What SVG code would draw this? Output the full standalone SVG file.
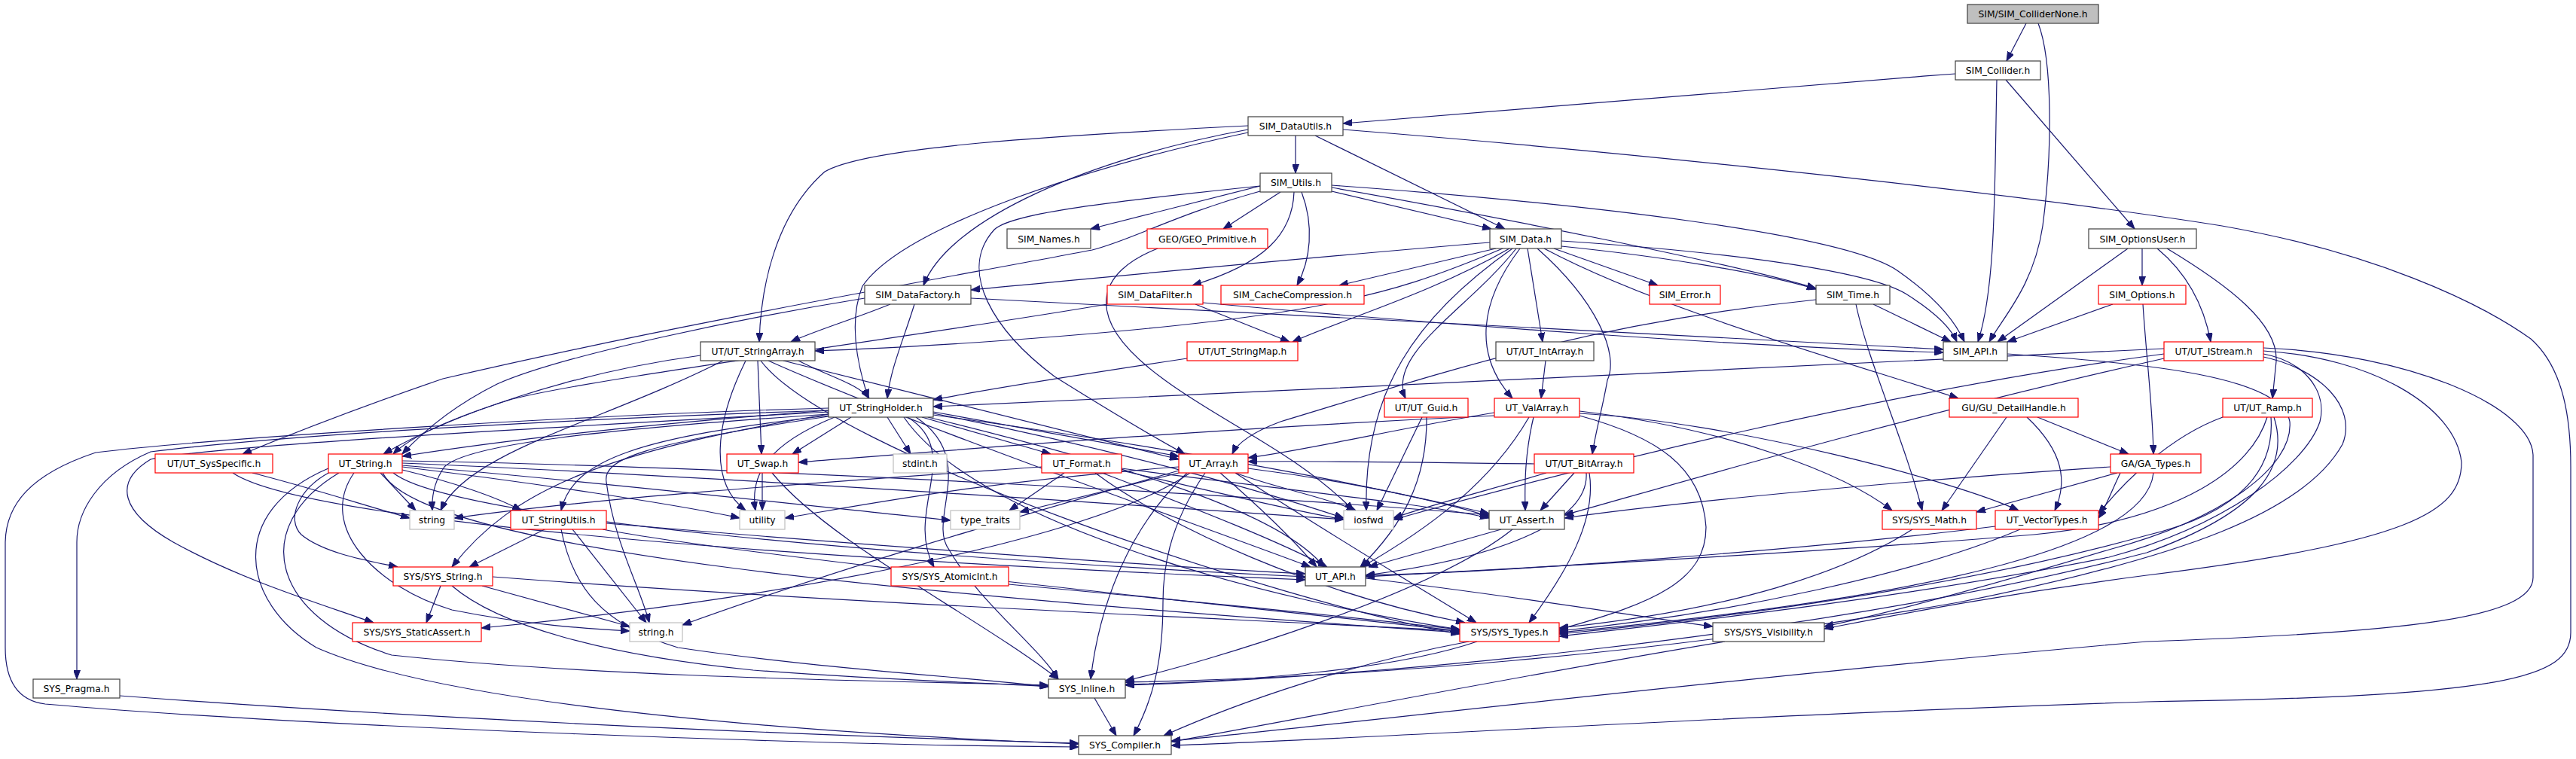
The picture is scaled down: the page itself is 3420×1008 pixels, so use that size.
<svg xmlns="http://www.w3.org/2000/svg" width="3420" height="1008" viewBox="0 0 3420 1008">
<style>
.n rect{fill:#fff;stroke:#404040;stroke-width:1.2}
.n.r rect{stroke:#ff0000}
.n.g rect{stroke:#bfbfbf}
.n.root rect{fill:#bfbfbf}
.n text{font-family:"DejaVu Sans","Liberation Sans",sans-serif;font-size:12.3px;text-anchor:middle;fill:#000}
.e path{fill:none;stroke:#191970;stroke-width:1.2;marker-end:url(#a)}
</style>
<defs>
<marker id="a" markerWidth="12" markerHeight="9" refX="12" refY="4.5" orient="auto" markerUnits="userSpaceOnUse"><path d="M0,0 L12,4.5 L0,9 z" fill="#191970" stroke="#191970" stroke-width="1"/></marker>
</defs>
<rect width="3420" height="1008" fill="#fff"/>
<g id="edges" class="e">
<path d="M2690,31 L2664,81"/>
<path d="M2706,31 C2725,80 2725,200 2712,300 C2700,380 2660,420 2641,454"/>
<path d="M2596,98 C2300,120 2000,145 1783,164"/>
<path d="M2651,106 C2648,250 2650,380 2626,454"/>
<path d="M2663,106 L2834,304"/>
<path d="M1720,180 L1720,230"/>
<path d="M1746,180 L1998,304"/>
<path d="M1657,172 C1450,210 1260,290 1226,379"/>
<path d="M1657,167 C1400,180 1150,195 1095,228 C1030,285 1010,380 1008,454"/>
<path d="M1657,176 C1450,220 1200,300 1145,380 C1125,430 1140,490 1153,529"/>
<path d="M1783,172 C2200,205 2700,260 2950,300 C3150,335 3290,400 3360,450 C3405,490 3413,560 3413,620 L3413,840 C3413,900 3330,925 2850,932 C2300,950 1800,982 1555,990"/>
<path d="M1673,247 L1448,304"/>
<path d="M1700,255 L1624,304"/>
<path d="M1768,254 L1980,304"/>
<path d="M1718,255 C1716,310 1680,350 1583,379"/>
<path d="M1728,255 C1745,300 1740,345 1722,379"/>
<path d="M1768,249 C2000,290 2300,350 2411,383"/>
<path d="M1768,246 C2100,270 2450,310 2520,360 C2570,395 2595,425 2608,454"/>
<path d="M1673,247 C1450,270 1340,285 1320,305 C1270,360 1320,440 1400,500 C1480,550 1540,585 1573,603"/>
<path d="M1673,254 C1560,285 1500,320 1450,332 C1250,370 900,430 588,503 C480,540 390,575 322,603"/>
<path d="M1537,330 C1460,360 1430,420 1544,503 C1620,560 1720,600 1797,678"/>
<path d="M1978,322 C1700,345 1450,370 1289,385"/>
<path d="M1986,330 L1778,379"/>
<path d="M1995,330 C1900,370 1850,385 1780,400 C1600,440 1200,462 1082,466"/>
<path d="M2004,330 C1900,390 1780,425 1716,454"/>
<path d="M2013,330 C1950,410 1840,470 1866,529"/>
<path d="M2018,330 C1965,400 1955,470 2008,529"/>
<path d="M2028,330 L2048,454"/>
<path d="M2041,330 C2120,400 2150,470 2134,505 C2128,540 2118,575 2114,603"/>
<path d="M2050,330 C2200,410 2450,480 2600,529"/>
<path d="M2063,330 L2201,379"/>
<path d="M2073,327 C2200,340 2330,360 2411,384"/>
<path d="M2073,320 C2300,335 2480,360 2530,390 C2570,415 2590,435 2598,454"/>
<path d="M2008,330 C1880,420 1810,520 1814,678"/>
<path d="M2844,330 L2844,379"/>
<path d="M2825,330 L2652,454"/>
<path d="M2864,330 C2900,360 2925,400 2935,454"/>
<path d="M2877,330 C2960,380 3025,430 3022,480 L3017,529"/>
<path d="M2805,404 L2665,454"/>
<path d="M2845,404 C2850,480 2858,540 2859,603"/>
<path d="M1182,404 C1130,425 1080,440 1050,454"/>
<path d="M1214,404 C1200,450 1182,490 1178,529"/>
<path d="M1148,396 C1000,420 750,470 660,510 C600,540 560,575 534,603"/>
<path d="M1289,396 C1800,420 2300,450 2580,464"/>
<path d="M1597,402 C1900,430 2300,460 2580,468"/>
<path d="M1587,404 L1712,454"/>
<path d="M1470,404 C1200,450 800,500 680,530 C600,555 545,580 522,603"/>
<path d="M1576,476 C1450,495 1320,515 1239,531"/>
<path d="M2873,463 C2500,480 1800,515 1239,540"/>
<path d="M1178,554 L1209,603"/>
<path d="M1205,554 C1280,600 1200,680 1240,753"/>
<path d="M1216,554 C1300,610 1230,690 1260,730 C1300,800 1380,860 1405,902"/>
<path d="M1224,554 L1395,603"/>
<path d="M1239,547 L1565,606"/>
<path d="M1239,549 C1500,600 1700,660 1784,688"/>
<path d="M1239,551 C1600,600 1900,660 1977,686"/>
<path d="M1232,554 C1500,620 1700,680 1758,753"/>
<path d="M1200,554 C1300,700 1700,800 1938,836"/>
<path d="M1100,545 C900,560 700,580 534,606"/>
<path d="M1100,550 C800,570 620,590 590,620 C576,640 573,660 574,678"/>
<path d="M1130,554 L1052,603"/>
<path d="M1100,552 C850,580 760,610 745,678"/>
<path d="M1100,550 C800,600 680,650 600,753"/>
<path d="M1100,553 C850,590 800,610 805,640 C815,720 850,780 862,827"/>
<path d="M1108,554 C1020,590 995,630 1003,678"/>
<path d="M1100,545 C800,555 400,575 200,600 C130,630 102,680 102,720 L102,902"/>
<path d="M1100,542 C800,550 300,580 127,601 C40,630 8,670 7,720 L7,860 C7,900 20,930 60,935 C400,965 1100,990 1432,992"/>
<path d="M1100,547 C700,570 300,590 200,610 C150,640 160,680 230,720 C320,770 420,800 496,827"/>
<path d="M1060,479 C1100,500 1140,510 1154,529"/>
<path d="M930,472 C760,495 600,550 509,603"/>
<path d="M1006,479 L1011,603"/>
<path d="M1040,479 C1200,520 1450,580 1565,610"/>
<path d="M960,479 C800,560 620,600 585,678"/>
<path d="M990,479 C950,560 940,640 990,678"/>
<path d="M1020,479 C1200,560 1600,700 1740,753"/>
<path d="M1010,479 C1100,600 1700,800 1938,842"/>
<path d="M505,628 L552,678"/>
<path d="M534,624 C600,640 660,660 692,678"/>
<path d="M534,620 C700,640 900,670 982,688"/>
<path d="M438,627 C395,650 380,690 400,710 C430,735 490,745 528,753"/>
<path d="M522,628 C600,690 1200,740 1733,766"/>
<path d="M508,628 C560,730 1200,790 1938,840"/>
<path d="M450,628 C330,700 360,820 520,870 C800,900 1200,905 1392,910"/>
<path d="M436,622 C300,680 320,800 420,860 C600,940 1100,975 1432,988"/>
<path d="M470,628 C420,700 500,780 600,810 C700,830 780,835 836,838"/>
<path d="M534,615 C900,630 1500,670 1784,690"/>
<path d="M534,612 C1000,620 1700,660 1977,684"/>
<path d="M534,618 C800,640 1150,680 1262,691"/>
<path d="M335,628 C420,650 480,670 544,688"/>
<path d="M309,628 C400,690 1000,740 1733,770"/>
<path d="M723,703 L623,753"/>
<path d="M760,703 L858,827"/>
<path d="M800,703 C1000,740 1600,800 1938,838"/>
<path d="M805,695 C1100,720 1500,750 1733,762"/>
<path d="M745,703 C760,780 800,830 900,860 C1100,890 1300,900 1392,912"/>
<path d="M585,778 L566,827"/>
<path d="M640,778 L836,832"/>
<path d="M654,766 C1100,800 1600,820 1938,838"/>
<path d="M600,778 C660,830 800,870 1000,890 C1200,905 1350,908 1392,912"/>
<path d="M1339,776 C1600,800 1800,820 1938,836"/>
<path d="M1012,628 L1012,678"/>
<path d="M1025,628 C1100,720 1300,820 1405,902"/>
<path d="M1413,628 L1340,678"/>
<path d="M1383,620 C1100,640 800,660 603,688"/>
<path d="M1454,628 C1550,700 1750,790 1945,827"/>
<path d="M1463,628 C1600,680 1700,720 1762,753"/>
<path d="M1489,622 C1700,650 1900,670 1977,688"/>
<path d="M1489,625 C1600,650 1700,675 1784,690"/>
<path d="M1565,628 L1354,680"/>
<path d="M1565,625 C1300,700 1100,760 906,830"/>
<path d="M1565,620 C1300,640 1150,670 1042,688"/>
<path d="M1576,628 C1500,700 1460,800 1448,902"/>
<path d="M1600,628 C1550,700 1544,760 1544,800 C1544,880 1530,930 1505,977"/>
<path d="M1620,628 C1680,680 1720,720 1748,753"/>
<path d="M1640,628 C1750,700 1900,790 1960,827"/>
<path d="M1657,622 C1800,640 1900,665 1977,682"/>
<path d="M1640,628 C1700,650 1760,660 1800,678"/>
<path d="M1580,628 C1450,720 1000,800 639,834"/>
<path d="M1984,552 C1600,570 1300,595 1060,614"/>
<path d="M1984,548 C1850,570 1750,595 1657,608"/>
<path d="M2036,554 C2025,600 2024,640 2025,678"/>
<path d="M2030,554 C1980,640 1900,700 1808,753"/>
<path d="M2097,552 C2200,580 2260,620 2265,700 C2265,770 2200,800 2070,836"/>
<path d="M2097,546 C2300,570 2450,630 2512,678"/>
<path d="M2097,549 C2300,560 2600,640 2680,678"/>
<path d="M2090,628 L2045,678"/>
<path d="M2110,628 C2120,690 2080,760 2030,827"/>
<path d="M2106,628 C2110,690 2000,740 1813,764"/>
<path d="M2053,628 C1980,650 1900,670 1850,688"/>
<path d="M2037,616 C1900,614 1750,612 1657,613"/>
<path d="M1888,554 L1828,678"/>
<path d="M1894,554 C1895,640 1860,700 1806,753"/>
<path d="M2664,554 L2578,678"/>
<path d="M2691,554 C2740,600 2745,640 2728,678"/>
<path d="M2705,554 L2826,603"/>
<path d="M2811,628 L2624,680"/>
<path d="M2815,628 C2800,660 2795,675 2786,688"/>
<path d="M2802,620 C2500,640 2200,670 2077,688"/>
<path d="M2859,628 C2850,720 2600,790 2070,840"/>
<path d="M2951,554 C2880,580 2820,640 2786,682"/>
<path d="M3010,554 C2990,620 2900,690 2700,710 C2400,735 2000,755 1813,766"/>
<path d="M3015,554 C3020,620 2980,680 2850,711 C2600,780 2300,820 2070,842"/>
<path d="M3019,554 C3040,620 3000,680 2850,734 C2400,850 1800,900 1494,910"/>
<path d="M3005,470 C3060,480 3090,520 3080,560 C3060,620 2950,700 2800,740 C2500,800 2200,830 2070,845"/>
<path d="M3005,474 C3080,490 3130,540 3110,590 C3060,680 2900,740 2600,800 C2200,870 1800,900 1494,906"/>
<path d="M3005,466 C3150,475 3260,540 3268,614 C3268,680 3200,720 2850,764 C2650,790 2500,820 2422,835"/>
<path d="M3005,462 C3200,470 3360,540 3363,604 L3363,767 C3363,820 3200,840 2850,852 C2300,900 1800,960 1555,984"/>
<path d="M2873,470 C2500,520 2100,620 1850,690"/>
<path d="M2873,476 C2500,560 2200,650 2077,684"/>
<path d="M2665,470 C2850,482 3030,500 3040,560 C3045,620 2950,690 2800,730 C2600,790 2480,820 2422,832"/>
<path d="M1813,768 C2000,790 2150,815 2274,832"/>
<path d="M1993,703 L1817,753"/>
<path d="M2008,703 C1900,790 1600,880 1494,904"/>
<path d="M2539,703 C2450,760 2300,810 2070,834"/>
<path d="M2649,699 C2400,730 2000,760 1813,764"/>
<path d="M2682,703 C2550,760 2300,815 2070,838"/>
<path d="M1961,852 C1850,890 1650,905 1494,909"/>
<path d="M1950,852 C1800,880 1650,930 1545,977"/>
<path d="M2290,852 C2000,900 1700,960 1555,985"/>
<path d="M1453,927 L1482,977"/>
<path d="M159,924 C500,950 1000,975 1432,987"/>
<path d="M2487,404 L2590,454"/>
<path d="M2464,404 C2480,480 2530,590 2552,678"/>
<path d="M2411,398 C2100,430 1900,500 1700,560 C1660,575 1642,590 1636,603"/>
<path d="M2052,479 L2046,529"/>
</g>
<g id="n0" class="n root"><rect x="2612" y="6" width="174" height="25"/><text x="2699" y="23">SIM/SIM_ColliderNone.h</text></g>
<g id="n1" class="n"><rect x="2596" y="81" width="113" height="25"/><text x="2652.5" y="98">SIM_Collider.h</text></g>
<g id="n2" class="n"><rect x="1657" y="155" width="126" height="25"/><text x="1720" y="172">SIM_DataUtils.h</text></g>
<g id="n3" class="n"><rect x="1673" y="230" width="95" height="25"/><text x="1720.5" y="247">SIM_Utils.h</text></g>
<g id="n4" class="n"><rect x="1337" y="304" width="111" height="26"/><text x="1392.5" y="321.5">SIM_Names.h</text></g>
<g id="n5" class="n r"><rect x="1523" y="304" width="160" height="26"/><text x="1603" y="321.5">GEO/GEO_Primitive.h</text></g>
<g id="n6" class="n"><rect x="1978" y="304" width="95" height="26"/><text x="2025.5" y="321.5">SIM_Data.h</text></g>
<g id="n7" class="n"><rect x="2773" y="304" width="143" height="26"/><text x="2844.5" y="321.5">SIM_OptionsUser.h</text></g>
<g id="n8" class="n"><rect x="1148" y="379" width="141" height="25"/><text x="1218.5" y="396">SIM_DataFactory.h</text></g>
<g id="n9" class="n r"><rect x="1470" y="379" width="127" height="25"/><text x="1533.5" y="396">SIM_DataFilter.h</text></g>
<g id="n10" class="n r"><rect x="1621" y="379" width="190" height="25"/><text x="1716" y="396">SIM_CacheCompression.h</text></g>
<g id="n11" class="n r"><rect x="2190" y="379" width="94" height="25"/><text x="2237" y="396">SIM_Error.h</text></g>
<g id="n12" class="n"><rect x="2411" y="379" width="98" height="25"/><text x="2460" y="396">SIM_Time.h</text></g>
<g id="n13" class="n r"><rect x="2786" y="379" width="116" height="25"/><text x="2844" y="396">SIM_Options.h</text></g>
<g id="n14" class="n"><rect x="930" y="454" width="152" height="25"/><text x="1006" y="471">UT/UT_StringArray.h</text></g>
<g id="n15" class="n r"><rect x="1576" y="454" width="147" height="25"/><text x="1649.5" y="471">UT/UT_StringMap.h</text></g>
<g id="n16" class="n"><rect x="1986" y="454" width="130" height="25"/><text x="2051" y="471">UT/UT_IntArray.h</text></g>
<g id="n17" class="n"><rect x="2580" y="454" width="85" height="25"/><text x="2622.5" y="471">SIM_API.h</text></g>
<g id="n18" class="n r"><rect x="2873" y="454" width="132" height="25"/><text x="2939" y="471">UT/UT_IStream.h</text></g>
<g id="n19" class="n"><rect x="1100" y="529" width="139" height="25"/><text x="1169.5" y="546">UT_StringHolder.h</text></g>
<g id="n20" class="n r"><rect x="1838" y="529" width="111" height="25"/><text x="1893.5" y="546">UT/UT_Guid.h</text></g>
<g id="n21" class="n r"><rect x="1984" y="529" width="113" height="25"/><text x="2040.5" y="546">UT_ValArray.h</text></g>
<g id="n22" class="n r"><rect x="2588" y="529" width="171" height="25"/><text x="2673.5" y="546">GU/GU_DetailHandle.h</text></g>
<g id="n23" class="n r"><rect x="2951" y="529" width="119" height="25"/><text x="3010.5" y="546">UT/UT_Ramp.h</text></g>
<g id="n24" class="n r"><rect x="206" y="603" width="156" height="25"/><text x="284" y="620">UT/UT_SysSpecific.h</text></g>
<g id="n25" class="n r"><rect x="436" y="603" width="98" height="25"/><text x="485" y="620">UT_String.h</text></g>
<g id="n26" class="n r"><rect x="965" y="603" width="95" height="25"/><text x="1012.5" y="620">UT_Swap.h</text></g>
<g id="n27" class="n g"><rect x="1186" y="603" width="71" height="25"/><text x="1221.5" y="620">stdint.h</text></g>
<g id="n28" class="n r"><rect x="1383" y="603" width="106" height="25"/><text x="1436" y="620">UT_Format.h</text></g>
<g id="n29" class="n r"><rect x="1565" y="603" width="92" height="25"/><text x="1611" y="620">UT_Array.h</text></g>
<g id="n30" class="n r"><rect x="2037" y="603" width="132" height="25"/><text x="2103" y="620">UT/UT_BitArray.h</text></g>
<g id="n31" class="n r"><rect x="2802" y="603" width="120" height="25"/><text x="2862" y="620">GA/GA_Types.h</text></g>
<g id="n32" class="n g"><rect x="544" y="678" width="59" height="25"/><text x="573.5" y="695">string</text></g>
<g id="n33" class="n r"><rect x="678" y="678" width="127" height="25"/><text x="741.5" y="695">UT_StringUtils.h</text></g>
<g id="n34" class="n g"><rect x="982" y="678" width="60" height="25"/><text x="1012" y="695">utility</text></g>
<g id="n35" class="n g"><rect x="1262" y="678" width="92" height="25"/><text x="1308" y="695">type_traits</text></g>
<g id="n36" class="n g"><rect x="1784" y="678" width="66" height="25"/><text x="1817" y="695">iosfwd</text></g>
<g id="n37" class="n"><rect x="1977" y="678" width="100" height="25"/><text x="2027" y="695">UT_Assert.h</text></g>
<g id="n38" class="n r"><rect x="2499" y="678" width="125" height="25"/><text x="2561.5" y="695">SYS/SYS_Math.h</text></g>
<g id="n39" class="n r"><rect x="2649" y="678" width="137" height="25"/><text x="2717.5" y="695">UT_VectorTypes.h</text></g>
<g id="n40" class="n r"><rect x="522" y="753" width="132" height="25"/><text x="588" y="770">SYS/SYS_String.h</text></g>
<g id="n41" class="n r"><rect x="1183" y="753" width="156" height="25"/><text x="1261" y="770">SYS/SYS_AtomicInt.h</text></g>
<g id="n42" class="n"><rect x="1733" y="753" width="80" height="25"/><text x="1773" y="770">UT_API.h</text></g>
<g id="n43" class="n r"><rect x="468" y="827" width="171" height="25"/><text x="553.5" y="844">SYS/SYS_StaticAssert.h</text></g>
<g id="n44" class="n g"><rect x="836" y="827" width="70" height="25"/><text x="871" y="844">string.h</text></g>
<g id="n45" class="n r"><rect x="1938" y="827" width="132" height="25"/><text x="2004" y="844">SYS/SYS_Types.h</text></g>
<g id="n46" class="n"><rect x="2274" y="827" width="148" height="25"/><text x="2348" y="844">SYS/SYS_Visibility.h</text></g>
<g id="n47" class="n"><rect x="44" y="902" width="115" height="25"/><text x="101.5" y="919">SYS_Pragma.h</text></g>
<g id="n48" class="n"><rect x="1392" y="902" width="102" height="25"/><text x="1443" y="919">SYS_Inline.h</text></g>
<g id="n49" class="n"><rect x="1432" y="977" width="123" height="25"/><text x="1493.5" y="994">SYS_Compiler.h</text></g>
</svg>
